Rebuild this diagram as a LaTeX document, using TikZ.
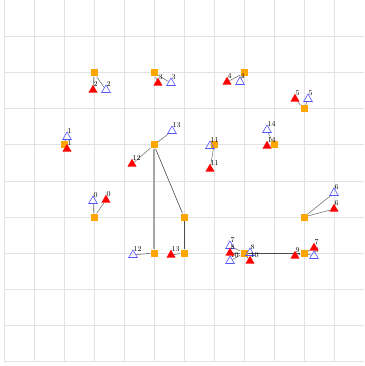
\documentclass[tikz,border=0pt]{standalone}
\usetikzlibrary{shapes.geometric,backgrounds}

\definecolor{rejilla}{RGB}{226,226,226}
\definecolor{azul}{RGB}{85,85,255}
\definecolor{naranja}{RGB}{255,165,0}
\definecolor{gristronco}{RGB}{165,165,165}

\tikzset{
  deposito/.style={fill=naranja, minimum size=7pt, inner sep=0pt},
  recogida/.style={regular polygon, regular polygon sides=3, fill=red, minimum size=10.5pt, inner sep=0pt},
  entrega/.style={regular polygon, regular polygon sides=3, draw=azul, line width=0.6pt, minimum size=10pt, inner sep=0pt},
  etiqueta/.style={font=\fontsize{7.5}{8}\selectfont, inner sep=0pt, anchor=west, xshift=0.5pt, yshift=0.5pt},
  enlace/.style={draw=black!60, line width=0.5pt},
  tramo/.style={draw=black!70, line width=0.6pt},
  tronco/.style={draw=gristronco, line width=1.8pt},
}

\begin{document}
\begin{tikzpicture}[x=1pt, y=-1pt] % Un punto por pixel, eje Y hacia abajo

        \useasboundingbox (0,0) rectangle (364,366);

        % Depositos (cuadrados naranjas)
        \node[deposito] (d1) at (94,73) {};
        \node[deposito] (d2) at (154,73) {};
        \node[deposito] (d3) at (244,73) {};
        \node[deposito] (d4) at (304,109) {};
        \node[deposito] (d5) at (64,145) {};
        \node[deposito] (d6) at (154,145) {};
        \node[deposito] (d7) at (214,145) {};
        \node[deposito] (d8) at (274,145) {};
        \node[deposito] (d9) at (94,217) {};
        \node[deposito] (d10) at (184,217) {};
        \node[deposito] (d11) at (304,217) {};
        \node[deposito] (d12) at (154,253) {};
        \node[deposito] (d13) at (184,253) {};
        \node[deposito] (d14) at (244,253) {};
        \node[deposito] (d15) at (304,253) {};

        % Entregas (triangulos azules)
        \node[entrega, label={[etiqueta]north:0}] (e0) at (93,201) {};
        \node[entrega, label={[etiqueta]north:1}] (e1) at (67,137) {};
        \node[entrega, label={[etiqueta]north:2}] (e2) at (106,90) {};
        \node[entrega, label={[etiqueta]north:3}] (e3) at (171,83) {};
        \node[entrega, label={[etiqueta]north:4}] (e4) at (240,82) {};
        \node[entrega, label={[etiqueta]north:5}] (e5) at (308,99) {};
        \node[entrega, label={[etiqueta]north:6}] (e6) at (334,193) {};
        \node[entrega, label={[etiqueta]north:7}] (e7) at (230,246) {};
        \node[entrega, label={[etiqueta]north:8}] (e8) at (250,253) {};
        \node[entrega, label={[etiqueta]north:9}] (e9) at (314,256) {};
        \node[entrega, label={[etiqueta]north:10}] (e10) at (230,261) {};
        \node[entrega, label={[etiqueta]north:11}] (e11) at (210,146) {};
        \node[entrega, label={[etiqueta]north:12}] (e12) at (133,255) {};
        \node[entrega, label={[etiqueta]north:13}] (e13) at (172,131) {};
        \node[entrega, label={[etiqueta]north:14}] (e14) at (267,130) {};

        % Recogidas (triangulos rojos)
        \node[recogida, label={[etiqueta]north:0}] (r0) at (106,200) {};
        \node[recogida, label={[etiqueta]north:1}] (r1) at (67,149) {};
        \node[recogida, label={[etiqueta]north:2}] (r2) at (93,90) {};
        \node[recogida, label={[etiqueta]north:3}] (r3) at (158,83) {};
        \node[recogida, label={[etiqueta]north:4}] (r4) at (227,82) {};
        \node[recogida, label={[etiqueta]north:5}] (r5) at (295,99) {};
        \node[recogida, label={[etiqueta]north:6}] (r6) at (334,209) {};
        \node[recogida, label={[etiqueta]north:7}] (r7) at (314,248) {};
        \node[recogida, label={[etiqueta]north:8}] (r8) at (230,253) {};
        \node[recogida, label={[etiqueta]north:9}] (r9) at (295,256) {};
        \node[recogida, label={[etiqueta]north:10}] (r10) at (250,261) {};
        \node[recogida, label={[etiqueta]north:11}] (r11) at (210,169) {};
        \node[recogida, label={[etiqueta]north:12}] (r12) at (132,164) {};
        \node[recogida, label={[etiqueta]north:13}] (r13) at (171,255) {};
        \node[recogida, label={[etiqueta]north:14}] (r14) at (267,146) {};

        \begin{pgfonlayer}{background}
            % Rejilla
            \foreach \i in {0,...,11} {
                \draw[rejilla, line width=1pt] (4+30*\i,0) -- (4+30*\i,361);
            }
            \foreach \j in {1,...,10} {
                \draw[rejilla, line width=1pt] (4,1+36*\j) -- (364,1+36*\j);
            }

            % Rutas entre depositos
            \draw[tronco] (d6) -- (d12);
            \draw[tramo] (d6) -- (d10);
            \draw[tramo] (d10) -- (d13);
            \draw[tramo] (d14) -- (d15);

            % Enlaces deposito - cliente
            \foreach \d/\c in {d1/r2, d1/e2, d2/r3, d2/e3, d3/r4, d3/e4, d4/r5, d4/e5,
                               d5/e1, d5/r1, d6/r12, d6/e13, d7/e11, d7/r11, d8/e14, d8/r14,
                               d9/e0, d9/r0, d11/e6, d11/r6, d12/e12, d13/r13,
                               d14/e7, d14/r8, d14/e10, d14/e8, d14/r10,
                               d15/r9, d15/r7, d15/e9} {
                \draw[enlace] (\d) -- (\c);
            }
        \end{pgfonlayer}

    \end{tikzpicture}
\end{document}
